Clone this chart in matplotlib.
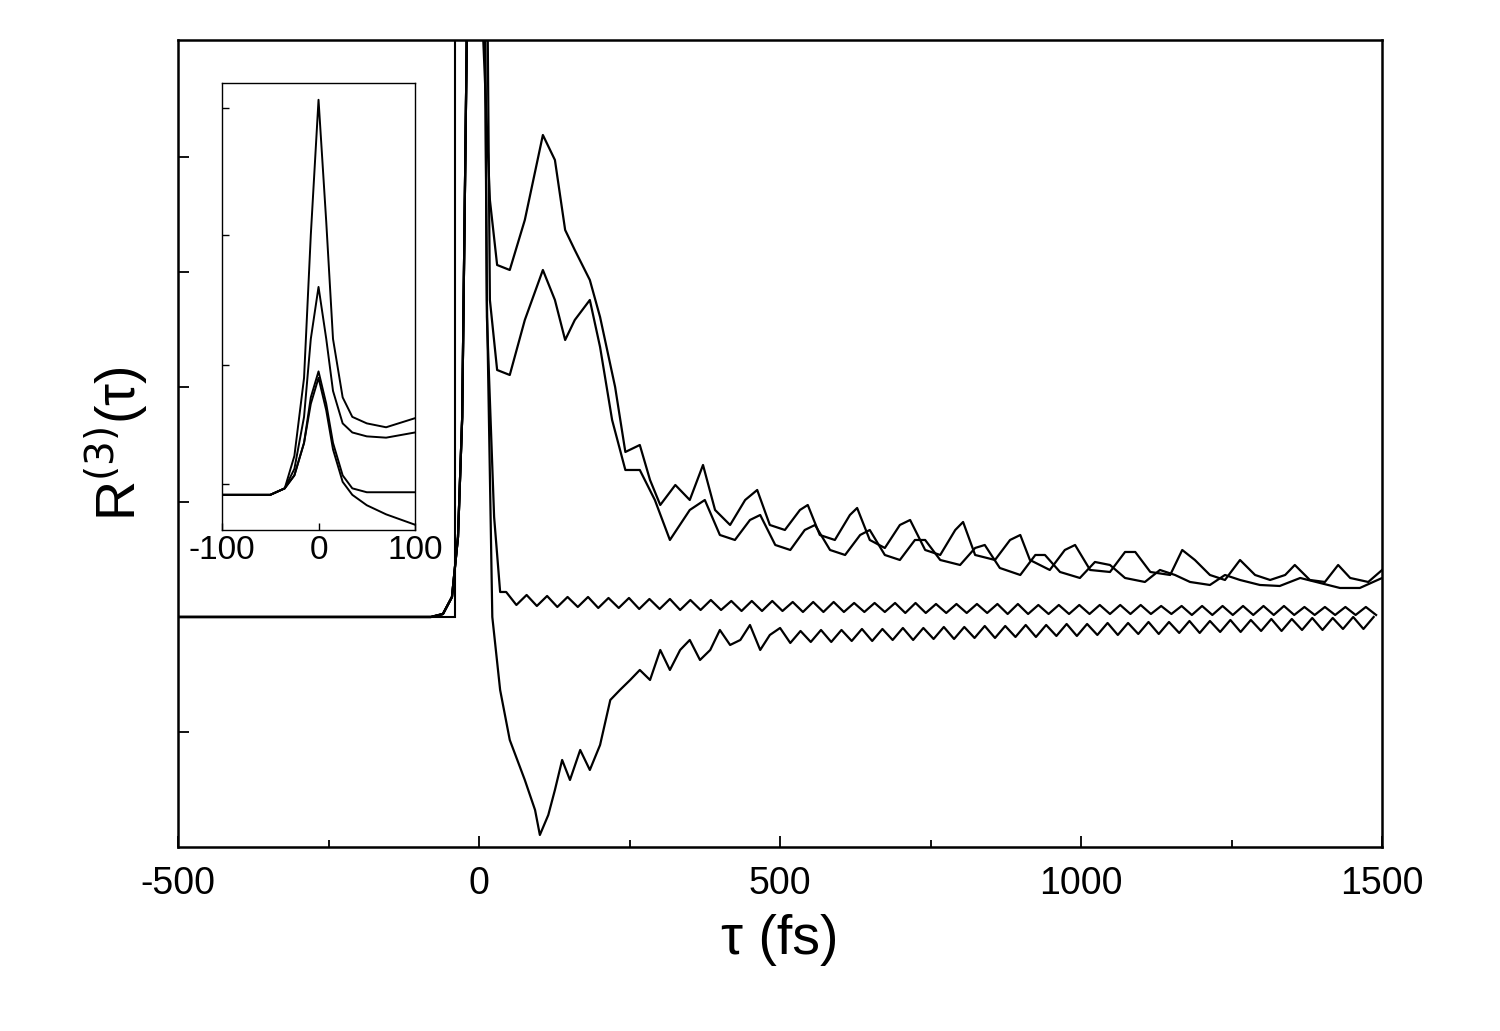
import numpy as np
import matplotlib.pyplot as plt
from matplotlib.patches import Rectangle

plt.rcParams['font.family'] = 'Liberation Sans'
plt.rcParams['axes.unicode_minus'] = False

# ---- main panel data (tau in fs, signal in arbitrary units) ----
pre_t = [-500, -80, -60, -45, -35, -28, -20, -5]
pre_v = [0, 0, 3, 20, 80, 200, 600, 2000]

A_t = [7, 18, 30, 51, 76, 106, 126, 143, 159, 184, 201, 226, 243, 267, 284, 301, 326, 350, 372, 392,
       417, 442, 462, 483, 508, 533, 546, 566, 591, 616, 628, 649, 674, 699, 716, 741, 766, 791, 804, 824,
       857, 882, 899, 915, 948, 973, 990, 1015, 1048, 1073, 1090, 1115, 1148, 1168, 1189, 1214, 1239, 1264,
       1289, 1314, 1339, 1355, 1380, 1405, 1427, 1447, 1477, 1500]
A_v = [577, 417, 352, 347, 397, 482, 457, 387, 367, 337, 300, 230, 165, 172, 137, 112, 132, 117, 152, 107,
       92, 117, 127, 92, 87, 107, 112, 82, 77, 102, 109, 77, 69, 92, 97, 67, 62, 87, 95, 62,
       57, 77, 82, 57, 47, 67, 72, 47, 45, 65, 65, 45, 42, 67, 57, 42, 37, 57,
       42, 37, 42, 52, 37, 35, 52, 39, 35, 47]

B_t = [18, 30, 51, 76, 106, 126, 143, 159, 184, 201, 221, 243, 267, 292, 317, 350, 375, 400, 425, 450,
       467, 492, 517, 541, 558, 583, 608, 633, 649, 674, 699, 724, 741, 766, 799, 824, 840, 865, 899, 924,
       940, 965, 998, 1023, 1048, 1073, 1106, 1131, 1156, 1181, 1214, 1239, 1264, 1297, 1330, 1364, 1397,
       1430, 1463, 1500]
B_v = [317, 247, 242, 297, 347, 317, 277, 297, 317, 270, 197, 147, 147, 117, 77, 107, 117, 82, 77, 97,
       102, 72, 67, 87, 92, 67, 62, 82, 87, 62, 57, 77, 77, 57, 52, 69, 72, 49, 42, 62,
       62, 45, 39, 55, 52, 39, 35, 47, 42, 35, 32, 42, 37, 32, 31, 39, 34,
       29, 29, 39]

C_head_t = [13, 25, 35]
C_head_v = [300, 100, 25]
C_t = [45, 62, 79, 96, 113, 130, 147, 164, 181, 198, 215, 232, 249, 266, 283, 300, 317, 334, 351, 368,
       385, 402, 419, 436, 453, 470, 487, 504, 521, 538, 555, 572, 589, 606, 623, 640, 657, 674, 691, 708,
       725, 742, 759, 776, 793, 810, 827, 844, 861, 878, 895, 912, 929, 946, 963, 980, 997, 1014, 1031, 1048,
       1065, 1082, 1099, 1116, 1133, 1150, 1167, 1184, 1201, 1218, 1235, 1252, 1269, 1286, 1303, 1320, 1337,
       1354, 1371, 1388, 1405, 1422, 1439, 1456, 1473, 1490]
C_v = [25, 12, 22, 11, 21, 10, 20, 10, 20, 9, 19, 9, 19, 8, 18, 8, 18, 7, 17, 7,
       17, 7, 16, 6, 16, 6, 16, 6, 15, 5, 15, 5, 15, 5, 14, 5, 14, 5, 14, 4,
       14, 4, 13, 4, 13, 4, 13, 4, 13, 3, 13, 3, 12, 3, 12, 3, 12, 3, 12, 3,
       12, 3, 12, 3, 11, 3, 11, 2, 11, 2, 11, 2, 11, 2, 11, 2, 11, 2, 10, 2,
       10, 2, 10, 2, 10, 2]

D_head_t = [13, 22, 35, 51, 76, 93, 101, 115, 126, 138, 151, 168, 184, 201, 218, 234, 251, 267, 284, 301,
            317, 334, 350, 367, 384, 400, 417, 434, 450, 467, 483, 500]
D_head_v = [317, 0, -73, -123, -163, -193, -218, -198, -173, -143, -163, -133, -153, -128, -83, -73, -63,
            -53, -63, -33, -53, -33, -23, -43, -33, -13, -28, -23, -8, -33, -18, -11]
D_t = [517, 534, 551, 568, 585, 602, 619, 636, 653, 670, 687, 704, 721, 738, 755, 772, 789, 806, 823, 840,
       857, 874, 891, 908, 925, 942, 959, 976, 993, 1010, 1027, 1044, 1061, 1078, 1095, 1112, 1129, 1146,
       1163, 1180, 1197, 1214, 1231, 1248, 1265, 1282, 1299, 1316, 1333, 1350, 1367, 1384, 1401, 1418,
       1435, 1452, 1469, 1486]
D_v = [-26, -14, -25, -13, -25, -13, -24, -12, -24, -12, -23, -11, -23, -11, -22, -10, -22, -10, -21, -9,
       -21, -9, -20, -8, -20, -8, -19, -7, -19, -7, -18, -6, -18, -6, -17, -5, -17, -5, -16, -4,
       -16, -4, -15, -3, -15, -3, -14, -2, -14, -2, -13, -1, -13, -1, -12, 0, -12, 0]

# ---- inset data ----
in_t = [-100, -50, -35, -25, -15, -8, 0, 8, 15, 25, 35, 50, 70, 100]
in_1 = [0, 0, 0.05, 0.3, 0.9, 2.0, 3.04, 2.1, 1.2, 0.75, 0.6, 0.55, 0.52, 0.59]
in_2 = [0, 0, 0.05, 0.2, 0.6, 1.2, 1.6, 1.2, 0.8, 0.55, 0.48, 0.45, 0.44, 0.48]
in_3 = [0, 0, 0.05, 0.15, 0.4, 0.75, 0.95, 0.7, 0.4, 0.15, 0.05, 0.02, 0.02, 0.02]
in_4 = [0, 0, 0.05, 0.15, 0.4, 0.7, 0.9, 0.65, 0.35, 0.1, 0.0, -0.08, -0.15, -0.23]

fig = plt.figure(figsize=(15, 10.31), dpi=100)
ax = fig.add_axes([0.1187, 0.1785, 0.8027, 0.7827])

lw = 1.6
curves = [(A_t, A_v), (B_t, B_v), (C_head_t + C_t, C_head_v + C_v), (D_head_t + D_t, D_head_v + D_v)]
for ts, vs in curves:
    ax.plot(pre_t + ts, pre_v + vs, color='black', lw=lw, zorder=3)

ax.add_patch(Rectangle((-510, 0), 470, 700, facecolor='white', edgecolor='black', lw=1.5, zorder=1.5))

ax.set_xlim(-500, 1500)
ax.set_ylim(-230, 577)
ax.set_xticks([-500, 0, 500, 1000, 1500])
ax.set_xticks([-250, 250, 750, 1250], minor=True)
ax.set_yticks([-115, 0, 115, 230, 345, 460])
ax.set_yticklabels([])
ax.tick_params(direction='in', length=8, width=1.3, labelsize=27, pad=14)
ax.tick_params(which='minor', direction='in', length=5, width=1.3)
for s in ax.spines.values():
    s.set_linewidth(1.8)
ax.set_xlabel('τ (fs)', fontsize=40, labelpad=8)
ax.set_ylabel('R$^{(3)}$(τ)', fontsize=40, labelpad=6)

ins = fig.add_axes([0.148, 0.486, 0.1287, 0.4336])
for v in (in_1, in_2, in_3, in_4):
    ins.plot(in_t, v, color='black', lw=1.4)
ins.set_xlim(-100, 100)
ins.set_ylim(-0.27, 3.17)
ins.set_xticks([-100, 0, 100])
ins.set_yticks([0.08, 1.0, 2.0, 2.98])
ins.set_yticklabels([])
ins.tick_params(direction='in', length=5, width=1, labelsize=24, pad=4)
for s in ins.spines.values():
    s.set_linewidth(1.0)

fig.savefig('out.png', dpi=100)
